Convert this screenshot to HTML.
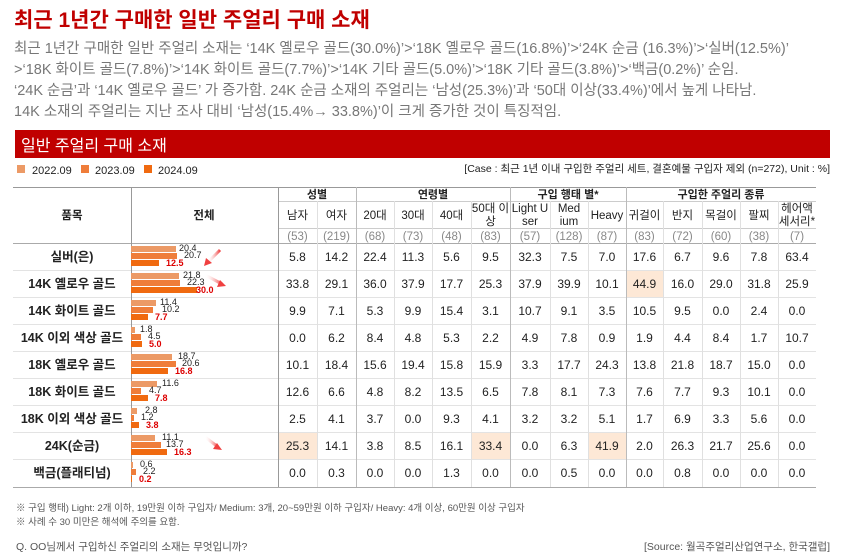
<!DOCTYPE html>
<html><head><meta charset="utf-8"><style>
body{margin:0;background:#fff;}
svg{display:block;font-family:"Liberation Sans","Noto Sans CJK KR",sans-serif;}
.c{text-anchor:middle;font-size:12px;fill:#222;}
.h{text-anchor:middle;font-size:11.5px;fill:#222;}
.n{text-anchor:middle;font-size:11.5px;fill:#888;}
.p{text-anchor:middle;font-size:12.5px;font-weight:bold;fill:#222;}
.bl{font-size:9px;fill:#222;}
.br{font-size:9px;fill:#d00;font-weight:bold;}
.g{font-size:14.5px;fill:#777;}
</style></head><body>
<svg width="845" height="556" viewBox="0 0 845 556" xmlns="http://www.w3.org/2000/svg">
<defs><linearGradient id="ar" x1="0" x2="1"><stop offset="0" stop-color="#fff" stop-opacity="0"/><stop offset="1" stop-color="#f04040"/></linearGradient></defs>
<text x="14" y="27" font-size="21" font-weight="bold" fill="#c00000">최근 1년간 구매한 일반 주얼리 구매 소재</text>
<text class="g" x="14" y="53">최근 1년간 구매한 일반 주얼리 소재는 ‘14K 옐로우 골드(30.0%)’&gt;‘18K 옐로우 골드(16.8%)’&gt;‘24K 순금 (16.3%)’&gt;‘실버(12.5%)’</text>
<text class="g" x="14" y="74">&gt;‘18K 화이트 골드(7.8%)’&gt;‘14K 화이트 골드(7.7%)’&gt;‘14K 기타 골드(5.0%)’&gt;‘18K 기타 골드(3.8%)’&gt;‘백금(0.2%)’ 순임.</text>
<text class="g" x="14" y="95">‘24K 순금’과 ‘14K 옐로우 골드’ 가 증가함. 24K 순금 소재의 주얼리는 ‘남성(25.3%)’과 ‘50대 이상(33.4%)’에서 높게 나타남.</text>
<text class="g" x="14" y="116">14K 소재의 주얼리는 지난 조사 대비 ‘남성(15.4%→ 33.8%)’이 크게 증가한 것이 특징적임.</text>
<rect x="15" y="130" width="815" height="28" fill="#c00000"/>
<text x="21" y="151" font-size="16" fill="#fff">일반 주얼리 구매 소재</text>
<rect x="17" y="165" width="8" height="8" fill="#ec9a66"/><text x="32" y="174" font-size="11" fill="#222">2022.09</text>
<rect x="81" y="165" width="8" height="8" fill="#ef7d3a"/><text x="95" y="174" font-size="11" fill="#222">2023.09</text>
<rect x="144" y="165" width="8" height="8" fill="#f06a10"/><text x="158" y="174" font-size="11" fill="#222">2024.09</text>
<text x="830" y="172" font-size="10.5" fill="#222" text-anchor="end">[Case : 최근 1년 이내 구입한 주얼리 세트, 결혼예물 구입자 제외 (n=272), Unit : %]</text>
<!-- highlights -->
<rect x="626" y="270" width="37" height="27" fill="#fde8d6"/>
<rect x="278" y="432" width="39" height="27" fill="#fde8d6"/>
<rect x="471" y="432" width="39" height="27" fill="#fde8d6"/>
<rect x="588" y="432" width="38" height="27" fill="#fde8d6"/>
<!-- grid -->
<g stroke="#ccc" stroke-width="1">
<line x1="13" y1="187.5" x2="816" y2="187.5" stroke="#999"/>
<line x1="278" y1="201.5" x2="816" y2="201.5"/>
<line x1="278" y1="228.5" x2="816" y2="228.5"/>
<line x1="13" y1="243.5" x2="816" y2="243.5" stroke="#aaa"/>
<line x1="13" y1="270.5" x2="816" y2="270.5" stroke="#e3e3e3"/>
<line x1="13" y1="297.5" x2="816" y2="297.5" stroke="#e3e3e3"/>
<line x1="13" y1="324.5" x2="816" y2="324.5" stroke="#e3e3e3"/>
<line x1="13" y1="351.5" x2="816" y2="351.5" stroke="#e3e3e3"/>
<line x1="13" y1="378.5" x2="816" y2="378.5" stroke="#e3e3e3"/>
<line x1="13" y1="405.5" x2="816" y2="405.5" stroke="#e3e3e3"/>
<line x1="13" y1="432.5" x2="816" y2="432.5" stroke="#e3e3e3"/>
<line x1="13" y1="459.5" x2="816" y2="459.5" stroke="#e3e3e3"/>
<line x1="13" y1="487.5" x2="816" y2="487.5" stroke="#aaa"/>
<line x1="131.5" y1="187" x2="131.5" y2="487" stroke="#999"/>
<line x1="278.5" y1="187" x2="278.5" y2="487" stroke="#999"/>
<line x1="356.5" y1="187" x2="356.5" y2="487" stroke="#bbb"/>
<line x1="510.5" y1="187" x2="510.5" y2="487" stroke="#bbb"/>
<line x1="626.5" y1="187" x2="626.5" y2="487" stroke="#bbb"/>
<g stroke="#e0e0e0">
<line x1="317.5" y1="201" x2="317.5" y2="487"/><line x1="394.5" y1="201" x2="394.5" y2="487"/>
<line x1="432.5" y1="201" x2="432.5" y2="487"/><line x1="471.5" y1="201" x2="471.5" y2="487"/>
<line x1="550.5" y1="201" x2="550.5" y2="487"/><line x1="588.5" y1="201" x2="588.5" y2="487"/>
<line x1="663.5" y1="201" x2="663.5" y2="487"/><line x1="702.5" y1="201" x2="702.5" y2="487"/>
<line x1="740.5" y1="201" x2="740.5" y2="487"/><line x1="778.5" y1="201" x2="778.5" y2="487"/>
</g></g>
<!-- headers -->
<text class="p" x="72" y="219" style="font-size:11.5px">품목</text>
<text class="p" x="204" y="219" style="font-size:11.5px">전체</text>
<text class="p" x="317" y="198" style="font-size:11px">성별</text>
<text class="p" x="433" y="198" style="font-size:11px">연령별</text>
<text class="p" x="568" y="198" style="font-size:11px">구입 행태 별*</text>
<text class="p" x="721" y="198" style="font-size:11px">구입한 주얼리 종류</text>
<g class="h">
<text x="297.5" y="219">남자</text><text x="336.5" y="219">여자</text><text x="375" y="219">20대</text><text x="413" y="219">30대</text><text x="451.5" y="219">40대</text>
<text x="490.5" y="212">50대 이</text><text x="490.5" y="225">상</text>
<text x="530" y="212">Light U</text><text x="530" y="225">ser</text>
<text x="569" y="212">Med</text><text x="569" y="225">ium</text>
<text x="607" y="219">Heavy</text><text x="644.5" y="219">귀걸이</text><text x="682.5" y="219">반지</text><text x="721" y="219">목걸이</text><text x="759" y="219">팔찌</text>
<text x="797" y="212">헤어액</text><text x="797" y="225">세서리*</text>
</g>
<g class="n">
<text x="297.5" y="240">(53)</text><text x="336.5" y="240">(219)</text><text x="375" y="240">(68)</text><text x="413" y="240">(73)</text><text x="451.5" y="240">(48)</text><text x="490.5" y="240">(83)</text><text x="530" y="240">(57)</text><text x="569" y="240">(128)</text><text x="607" y="240">(87)</text><text x="644.5" y="240">(83)</text><text x="682.5" y="240">(72)</text><text x="721" y="240">(60)</text><text x="759" y="240">(38)</text><text x="797" y="240">(7)</text>
</g>
<!-- row labels -->
<g class="p">
<text x="72" y="261">실버(은)</text><text x="72" y="288">14K 옐로우 골드</text><text x="72" y="315">14K 화이트 골드</text><text x="72" y="342">14K 이외 색상 골드</text><text x="72" y="369">18K 옐로우 골드</text><text x="72" y="396">18K 화이트 골드</text><text x="72" y="423">18K 이외 색상 골드</text><text x="72" y="450">24K(순금)</text><text x="72" y="477">백금(플래티넘)</text>
</g>
<!-- bars -->
<g>
<!-- T=243 -->
<rect x="131" y="246" width="45" height="6" fill="#ec9a66"/><rect x="131" y="253" width="46" height="6" fill="#ef7d3a"/><rect x="131" y="260" width="28" height="6" fill="#f06a10"/>
<text class="bl" x="179" y="251">20.4</text><text class="bl" x="184" y="258">20.7</text><text class="br" x="166" y="266">12.5</text>
<rect x="131" y="273" width="48" height="6" fill="#ec9a66"/><rect x="131" y="280" width="49" height="6" fill="#ef7d3a"/><rect x="131" y="287" width="66" height="6" fill="#f06a10"/>
<text class="bl" x="183" y="278">21.8</text><text class="bl" x="187" y="285">22.3</text><text class="br" x="196" y="293">30.0</text>
<rect x="131" y="300" width="25" height="6" fill="#ec9a66"/><rect x="131" y="307" width="22" height="6" fill="#ef7d3a"/><rect x="131" y="314" width="17" height="6" fill="#f06a10"/>
<text class="bl" x="160" y="305">11.4</text><text class="bl" x="162" y="312">10.2</text><text class="br" x="155" y="320">7.7</text>
<rect x="131" y="327" width="4" height="6" fill="#ec9a66"/><rect x="131" y="334" width="10" height="6" fill="#ef7d3a"/><rect x="131" y="341" width="11" height="6" fill="#f06a10"/>
<text class="bl" x="140" y="332">1.8</text><text class="bl" x="148" y="339">4.5</text><text class="br" x="149" y="347">5.0</text>
<rect x="131" y="354" width="41" height="6" fill="#ec9a66"/><rect x="131" y="361" width="45" height="6" fill="#ef7d3a"/><rect x="131" y="368" width="37" height="6" fill="#f06a10"/>
<text class="bl" x="178" y="359">18.7</text><text class="bl" x="182" y="366">20.6</text><text class="br" x="175" y="374">16.8</text>
<rect x="131" y="381" width="26" height="6" fill="#ec9a66"/><rect x="131" y="388" width="10" height="6" fill="#ef7d3a"/><rect x="131" y="395" width="17" height="6" fill="#f06a10"/>
<text class="bl" x="162" y="386">11.6</text><text class="bl" x="149" y="393">4.7</text><text class="br" x="155" y="401">7.8</text>
<rect x="131" y="408" width="6" height="6" fill="#ec9a66"/><rect x="131" y="415" width="3" height="6" fill="#ef7d3a"/><rect x="131" y="422" width="8" height="6" fill="#f06a10"/>
<text class="bl" x="145" y="413">2.8</text><text class="bl" x="141" y="420">1.2</text><text class="br" x="146" y="428">3.8</text>
<rect x="131" y="435" width="24" height="6" fill="#ec9a66"/><rect x="131" y="442" width="30" height="6" fill="#ef7d3a"/><rect x="131" y="449" width="36" height="6" fill="#f06a10"/>
<text class="bl" x="162" y="440">11.1</text><text class="bl" x="166" y="447">13.7</text><text class="br" x="174" y="455">16.3</text>
<rect x="131" y="462" width="2" height="6" fill="#ec9a66"/><rect x="131" y="469" width="5" height="6" fill="#ef7d3a"/><rect x="131" y="476" width="1" height="6" fill="#f06a10"/>
<text class="bl" x="140" y="467">0.6</text><text class="bl" x="143" y="474">2.2</text><text class="br" x="139" y="482">0.2</text>
</g>
<!-- arrows -->
<g stroke="url(#ar)" stroke-width="3" fill="none">
<line x1="220" y1="250" x2="207" y2="263"/><line x1="205" y1="275" x2="222" y2="284"/><line x1="205" y1="437" x2="218" y2="447"/>
</g>
<g fill="#f04040"><polygon points="204,266 206,258 212,263"/><polygon points="226,286 217,287 220,280"/><polygon points="222,450 213,449 217,443"/></g>
<!-- data -->
<g class="c">
<text x="297.5" y="261">5.8</text><text x="336.5" y="261">14.2</text><text x="375" y="261">22.4</text><text x="413" y="261">11.3</text><text x="451.5" y="261">5.6</text><text x="490.5" y="261">9.5</text><text x="530" y="261">32.3</text><text x="569" y="261">7.5</text><text x="607" y="261">7.0</text><text x="644.5" y="261">17.6</text><text x="682.5" y="261">6.7</text><text x="721" y="261">9.6</text><text x="759" y="261">7.8</text><text x="797" y="261">63.4</text>
<text x="297.5" y="288">33.8</text><text x="336.5" y="288">29.1</text><text x="375" y="288">36.0</text><text x="413" y="288">37.9</text><text x="451.5" y="288">17.7</text><text x="490.5" y="288">25.3</text><text x="530" y="288">37.9</text><text x="569" y="288">39.9</text><text x="607" y="288">10.1</text><text x="644.5" y="288">44.9</text><text x="682.5" y="288">16.0</text><text x="721" y="288">29.0</text><text x="759" y="288">31.8</text><text x="797" y="288">25.9</text>
<text x="297.5" y="315">9.9</text><text x="336.5" y="315">7.1</text><text x="375" y="315">5.3</text><text x="413" y="315">9.9</text><text x="451.5" y="315">15.4</text><text x="490.5" y="315">3.1</text><text x="530" y="315">10.7</text><text x="569" y="315">9.1</text><text x="607" y="315">3.5</text><text x="644.5" y="315">10.5</text><text x="682.5" y="315">9.5</text><text x="721" y="315">0.0</text><text x="759" y="315">2.4</text><text x="797" y="315">0.0</text>
<text x="297.5" y="342">0.0</text><text x="336.5" y="342">6.2</text><text x="375" y="342">8.4</text><text x="413" y="342">4.8</text><text x="451.5" y="342">5.3</text><text x="490.5" y="342">2.2</text><text x="530" y="342">4.9</text><text x="569" y="342">7.8</text><text x="607" y="342">0.9</text><text x="644.5" y="342">1.9</text><text x="682.5" y="342">4.4</text><text x="721" y="342">8.4</text><text x="759" y="342">1.7</text><text x="797" y="342">10.7</text>
<text x="297.5" y="369">10.1</text><text x="336.5" y="369">18.4</text><text x="375" y="369">15.6</text><text x="413" y="369">19.4</text><text x="451.5" y="369">15.8</text><text x="490.5" y="369">15.9</text><text x="530" y="369">3.3</text><text x="569" y="369">17.7</text><text x="607" y="369">24.3</text><text x="644.5" y="369">13.8</text><text x="682.5" y="369">21.8</text><text x="721" y="369">18.7</text><text x="759" y="369">15.0</text><text x="797" y="369">0.0</text>
<text x="297.5" y="396">12.6</text><text x="336.5" y="396">6.6</text><text x="375" y="396">4.8</text><text x="413" y="396">8.2</text><text x="451.5" y="396">13.5</text><text x="490.5" y="396">6.5</text><text x="530" y="396">7.8</text><text x="569" y="396">8.1</text><text x="607" y="396">7.3</text><text x="644.5" y="396">7.6</text><text x="682.5" y="396">7.7</text><text x="721" y="396">9.3</text><text x="759" y="396">10.1</text><text x="797" y="396">0.0</text>
<text x="297.5" y="423">2.5</text><text x="336.5" y="423">4.1</text><text x="375" y="423">3.7</text><text x="413" y="423">0.0</text><text x="451.5" y="423">9.3</text><text x="490.5" y="423">4.1</text><text x="530" y="423">3.2</text><text x="569" y="423">3.2</text><text x="607" y="423">5.1</text><text x="644.5" y="423">1.7</text><text x="682.5" y="423">6.9</text><text x="721" y="423">3.3</text><text x="759" y="423">5.6</text><text x="797" y="423">0.0</text>
<text x="297.5" y="450">25.3</text><text x="336.5" y="450">14.1</text><text x="375" y="450">3.8</text><text x="413" y="450">8.5</text><text x="451.5" y="450">16.1</text><text x="490.5" y="450">33.4</text><text x="530" y="450">0.0</text><text x="569" y="450">6.3</text><text x="607" y="450">41.9</text><text x="644.5" y="450">2.0</text><text x="682.5" y="450">26.3</text><text x="721" y="450">21.7</text><text x="759" y="450">25.6</text><text x="797" y="450">0.0</text>
<text x="297.5" y="477">0.0</text><text x="336.5" y="477">0.3</text><text x="375" y="477">0.0</text><text x="413" y="477">0.0</text><text x="451.5" y="477">1.3</text><text x="490.5" y="477">0.0</text><text x="530" y="477">0.0</text><text x="569" y="477">0.5</text><text x="607" y="477">0.0</text><text x="644.5" y="477">0.0</text><text x="682.5" y="477">0.8</text><text x="721" y="477">0.0</text><text x="759" y="477">0.0</text><text x="797" y="477">0.0</text>
</g>
<text x="16" y="511" font-size="9.5" fill="#555">※ 구입 행태) Light: 2개 이하, 19만원 이하 구입자/ Medium: 3개, 20~59만원 이하 구입자/ Heavy: 4개 이상, 60만원 이상 구입자</text>
<text x="16" y="525" font-size="9.5" fill="#555">※ 사례 수 30 미만은 해석에 주의를 요함.</text>
<text x="16" y="550" font-size="10.5" fill="#555">Q. OO님께서 구입하신 주얼리의 소재는 무엇입니까?</text>
<text x="830" y="550" font-size="10.5" fill="#555" text-anchor="end">[Source: 월곡주얼리산업연구소, 한국갤럽]</text>
</svg>
</body></html>
